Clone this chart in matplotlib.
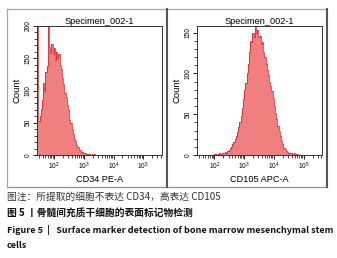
"""CD34 / CD105 flow cytometry histograms with Chinese/English caption."""

import numpy as np
import matplotlib
matplotlib.use("Agg")
import matplotlib.pyplot as plt
from matplotlib.lines import Line2D
from matplotlib.ticker import LogLocator, FixedLocator, MultipleLocator, NullFormatter

plt.rcParams["font.family"] = ["Liberation Sans", "DejaVu Sans"]

# ---- data (log10 bin start, bin width, counts per bin) ----
cd34_start, cd34_step = 1.42, 0.04
cd34_count = [240, 52, 60, 72, 86, 112, 100, 128, 138, 205,
              168, 158, 172, 156, 166, 148, 160, 150, 156, 140,
              134, 120, 110, 96, 90, 78, 70, 55, 50, 40,
              33, 25, 21, 15, 12, 8, 7, 5, 4, 3,
              3, 2, 2, 1, 1, 0, 1, 0, 1, 0]

cd105_start, cd105_step = 2.00, 0.04
cd105_count = [1, 1, 0, 1, 2, 1, 2, 3, 2, 4,
               3, 5, 6, 8, 10, 13, 16, 20, 23, 28,
               34, 40, 48, 58, 68, 80, 88, 100, 112, 126,
               140, 138, 150, 145, 160, 150, 153, 144, 146, 136,
               138, 126, 120, 112, 104, 98, 90, 84, 78, 70,
               60, 52, 44, 36, 30, 23, 17, 13, 9, 7,
               5, 4, 3, 2, 2, 1, 1, 2, 0, 1, 0]

panels = [
    ("CD34 PE-A", cd34_start, cd34_step, cd34_count, 200, [0, 50, 100, 150, 200]),
    ("CD105 APC-A", cd105_start, cd105_step, cd105_count, 158, [0, 50, 100, 150]),
]
title = "Specimen_002-1"
caption1 = "图注：所提取的细胞不表达 CD34，高表达 CD105"
caption2 = "图 5 丨骨髓间充质干细胞的表面标记物检测"
caption3 = "Figure 5  |   Surface marker detection of bone marrow mesenchymal stem"
caption4 = "cells"

W, H = 337, 258
fig = plt.figure(figsize=(W / 100, H / 100), dpi=100)


def fx(px):
    return px / W


def fy(py):
    return 1 - py / H


# outer frame + divider
frame = [((7, 9), (327, 9), "#a8a8a8", 0.9),
         ((7, 9), (7, 187), "#a8a8a8", 0.9),
         ((7, 187), (327, 187), "#909090", 0.9),
         ((327, 9), (327, 187), "#555555", 1.5),
         ((166.5, 9), (166.5, 187), "#555555", 1.5)]
for (x0, y0), (x1, y1), c, lw in frame:
    fig.add_artist(Line2D([fx(x0), fx(x1)], [fy(y0), fy(y1)], color=c, lw=lw,
                          transform=fig.transFigure))

boxes = [(37, 161.5), (197, 322)]
for (xl, xr), (label, start, step, counts, ymax, yticks) in zip(boxes, panels):
    ax = fig.add_axes([fx(xl), fy(155), fx(xr) - fx(xl), fy(26) - fy(155)])
    edges = 10 ** (start + step * np.arange(len(counts) + 1))
    ax.stairs(counts, edges, fill=True, color="#f08080", lw=0)
    ax.stairs(counts, edges, color="#e3151b", lw=0.5)
    ax.set_xscale("log")
    ax.set_xlim(10 ** 1.414, 10 ** 5.62)
    ax.set_ylim(0, ymax)
    ax.xaxis.set_major_locator(FixedLocator([1e2, 1e3, 1e4, 1e5]))
    ax.xaxis.set_minor_locator(LogLocator(base=10, subs=np.arange(2, 10)))
    ax.xaxis.set_minor_formatter(NullFormatter())
    ax.set_yticks(yticks)
    ax.yaxis.set_minor_locator(MultipleLocator(10))
    ax.tick_params(axis="both", which="major", length=3, width=0.6, labelsize=4.8, pad=1)
    ax.tick_params(axis="both", which="minor", length=2, width=0.5)
    for t in ax.get_yticklabels():
        t.set_rotation(90)
        t.set_va("center")
    for s in ax.spines.values():
        s.set_linewidth(0.7)
        s.set_color("#333333")
    ax.set_title(title, fontsize=6.6, pad=1.5)
    ax.set_xlabel(label, fontsize=6.6, labelpad=2)
    ax.set_ylabel("Count", fontsize=6.8, labelpad=2)

cjk = ["Noto Sans CJK SC", "DejaVu Sans"]
fig.text(fx(7), fy(197), caption1, fontsize=7, family=cjk, va="center", color="#333333")
fig.text(fx(7), fy(213), caption2, fontsize=7, family=cjk, va="center",
         weight="bold", color="#111111")
fig.text(fx(7), fy(230), caption3, fontsize=6.55, family=cjk, va="center",
         weight="bold", color="#111111")
fig.text(fx(7), fy(245), caption4, fontsize=6.55, family=cjk, va="center",
         weight="bold", color="#111111")

fig.savefig("out.png", dpi=100)
